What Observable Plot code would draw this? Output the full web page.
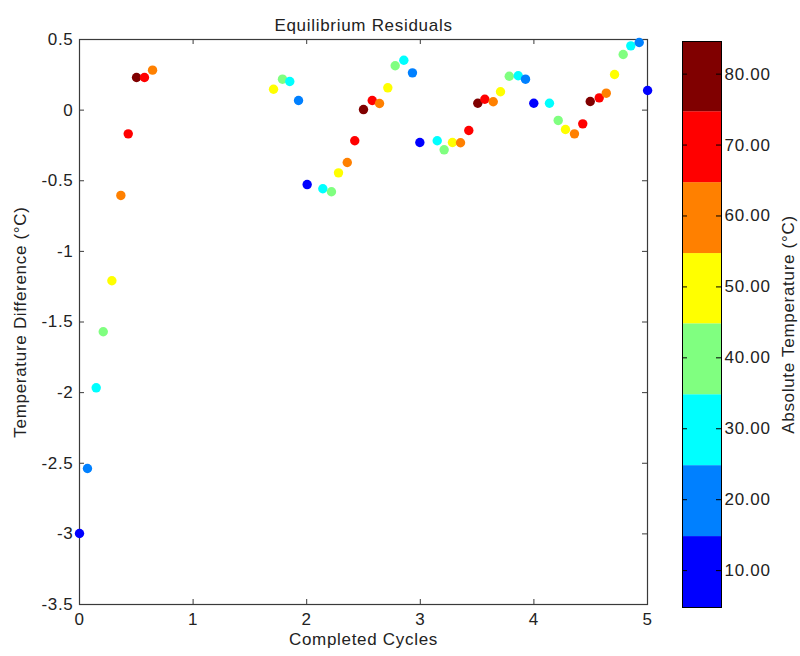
<!DOCTYPE html>
<html><head><meta charset="utf-8">
<script src="https://cdn.jsdelivr.net/npm/d3@7"></script>
<script src="https://cdn.jsdelivr.net/npm/@observablehq/plot@0.6"></script>
<style>
body{margin:0;background:#fff;}
#wrap{position:relative;width:800px;height:656px;}
#wrap svg{position:absolute;left:0;top:0;}
</style></head><body><div id="wrap"></div>
<script>
// Completed cycles (x)
const cycles = [0.000,0.070,0.147,0.209,0.285,0.364,0.429,0.502,0.572,0.643,
  1.708,1.787,1.851,1.928,2.004,
  2.142,2.218,2.280,2.357,2.423,2.500,2.577,2.641,2.714,2.779,2.855,2.931,2.996,
  3.149,3.210,3.283,3.354,3.427,3.506,3.568,3.642,3.706,3.783,3.862,3.926,3.999,
  4.137,4.214,4.278,4.357,4.430,4.496,4.575,4.637,4.710,4.786,4.853,4.927,5.001];
// Temperature difference (y)
const residuals = [-2.997,-2.537,-1.966,-1.569,-1.208,-0.604,-0.168,0.231,0.231,0.283,
  0.148,0.219,0.203,0.068,-0.527,
  -0.557,-0.578,-0.444,-0.371,-0.217,0.004,0.068,0.047,0.158,0.314,0.353,0.264,-0.229,
  -0.217,-0.281,-0.229,-0.231,-0.144,0.049,0.077,0.059,0.130,0.240,0.243,0.219,0.049,
  0.049,-0.073,-0.137,-0.168,-0.097,0.061,0.087,0.120,0.252,0.394,0.455,0.479,0.139];
// Absolute temperature (colour)
const temps = [10,20,30,40,50,60,70,80,70,60,
  50,40,30,20,10,
  30,40,50,60,70,80,70,60,50,40,30,20,10,
  30,40,50,60,70,80,70,60,50,40,30,20,10,
  30,40,50,60,70,80,70,60,50,40,30,20,10];
const binEdges = [4.8,14.8,24.8,34.8,44.8,54.7,64.7,74.7,84.6];
const binColors = ["#0000ff","#0080ff","#00ffff","#80ff80","#ffff00","#ff8000","#ff0000","#800000"];
const colorTicks = [10,20,30,40,50,60,70,80];
const xTicks = [0,1,2,3,4,5];
const yTicks = [0.5,0,-0.5,-1,-1.5,-2,-2.5,-3,-3.5];
const titleText = "Equilibrium Residuals";
const xLabel = "Completed Cycles";
const yLabel = "Temperature Difference (°C)";
const cLabel = "Absolute Temperature (°C)";

const W = 800, H = 656;
const mL = 79, mR = 153, mT = 39, mB = 52;
const fw = W - mL - mR, fh = H - mT - mB;
const tk = 5;

const data = cycles.map((c, i) => ({c, r: residuals[i], t: temps[i]}));
const bins = binColors.map((col, i) => ({lo: binEdges[i], hi: binEdges[i + 1], col}));
const font = "'Liberation Sans', Arial, sans-serif";
const style = {fontFamily: font, fontSize: "17px", color: "#222", background: "transparent", letterSpacing: "0.7px", overflow: "visible"};

const main = Plot.plot({
  width: W, height: H,
  marginLeft: mL, marginRight: mR, marginTop: mT, marginBottom: mB,
  style,
  x: {domain: [0, 5]},
  y: {domain: [-3.5, 0.5]},
  color: {type: "threshold", domain: binEdges.slice(1, -1), range: binColors},
  marks: [
    Plot.frame({stroke: "#3a3a3a", strokeWidth: 1.2}),
    Plot.tickX(xTicks, {x: d => d, insetTop: fh - tk, stroke: "#3a3a3a"}),
    Plot.tickX(xTicks, {x: d => d, insetBottom: fh - tk, stroke: "#3a3a3a"}),
    Plot.tickY(yTicks, {y: d => d, insetRight: fw - tk, stroke: "#3a3a3a"}),
    Plot.tickY(yTicks, {y: d => d, insetLeft: fw - tk, stroke: "#3a3a3a"}),
    Plot.axisX(xTicks, {anchor: "bottom", tickSize: 0, tickPadding: 8, tickFormat: d => String(d), label: null, fill: "#222"}),
    Plot.axisY(yTicks, {anchor: "left", tickSize: 0, tickPadding: 6, tickFormat: d => String(d), label: null, fill: "#222"}),
    Plot.dot(data, {x: "c", y: "r", fill: "t", r: 4.7}),
    Plot.text([titleText], {text: d => d, frameAnchor: "top", dy: -21, fill: "#222"}),
    Plot.text([xLabel], {text: d => d, frameAnchor: "bottom", dy: 40, fill: "#222"}),
    Plot.text([yLabel], {text: d => d, frameAnchor: "left", textAnchor: "middle", dx: -59, rotate: -90, fill: "#222"})
  ]
});

const cL = 682, cR = 79, cT = 41, cB = 49;
const cw = W - cL - cR;
const cbar = Plot.plot({
  width: W, height: H,
  marginLeft: cL, marginRight: cR, marginTop: cT, marginBottom: cB,
  style,
  y: {domain: [binEdges[0], binEdges[binEdges.length - 1]]},
  marks: [
    Plot.rect(bins, {y1: "lo", y2: "hi", fill: "col"}),
    Plot.frame({stroke: "#000"}),
    Plot.tickY(colorTicks, {y: d => d, insetRight: cw - tk, stroke: "#000"}),
    Plot.tickY(colorTicks, {y: d => d, insetLeft: cw - tk, stroke: "#000"}),
    Plot.axisY(colorTicks, {anchor: "right", tickSize: 0, tickPadding: 3, tickFormat: d3.format(".2f"), label: null, fill: "#222"}),
    Plot.text([cLabel], {text: d => d, frameAnchor: "right", textAnchor: "middle", dx: 67, rotate: -90, fill: "#222"})
  ]
});

const wrap = document.getElementById("wrap");
wrap.appendChild(cbar);
wrap.appendChild(main);
</script></body></html>
